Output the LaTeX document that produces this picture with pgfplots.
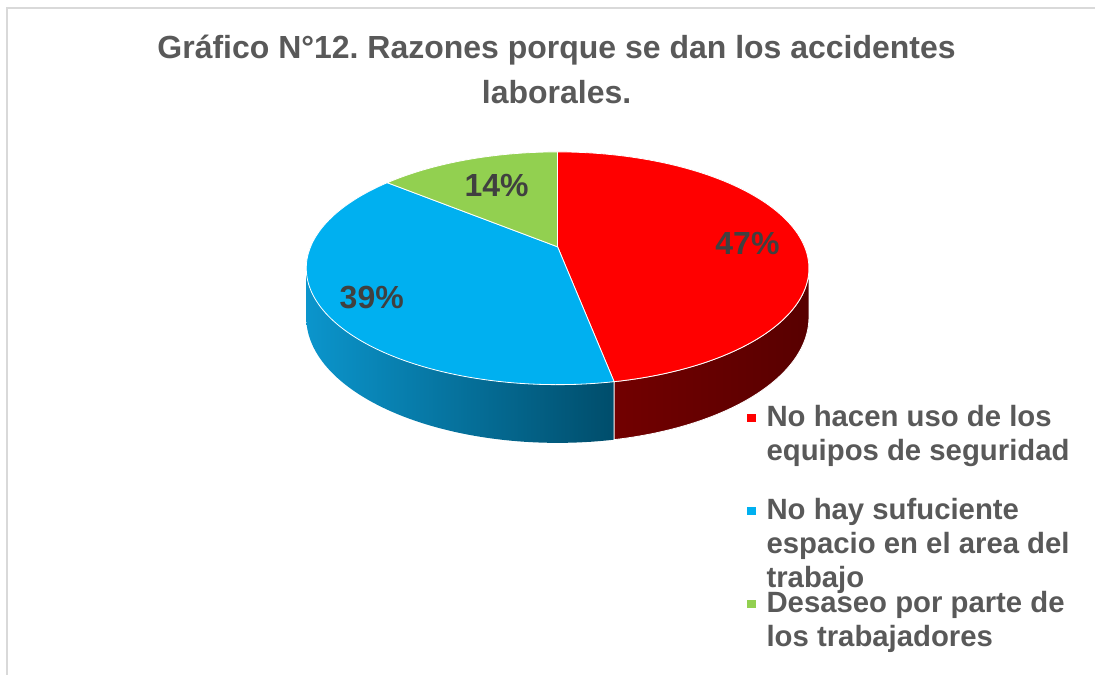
\documentclass[border=0pt]{standalone}
\usepackage{pgfplots}
\pgfplotsset{compat=1.18}
\usepackage{pgfplotstable}
\usepackage{fontspec}
\setmainfont{Liberation Sans}
\definecolor{pieRed}{HTML}{FF0000}
\definecolor{pieBlue}{HTML}{00B0F0}
\definecolor{pieGreen}{HTML}{92D050}
\definecolor{redSideL}{HTML}{720000}
\definecolor{redSideR}{HTML}{580000}
\definecolor{blueSideL}{HTML}{0B95CC}
\definecolor{blueSideR}{HTML}{004D6B}
\definecolor{txtGray}{HTML}{595959}
\definecolor{lblGray}{HTML}{404040}
\definecolor{frameGray}{HTML}{D9D9D9}

\pgfplotstableread{
label value
A 47
B 39
C 14
}\piedata
\pgfplotstablegetelem{0}{value}\of\piedata \let\vA\pgfplotsretval
\pgfplotstablegetelem{1}{value}\of\piedata \let\vB\pgfplotsretval
\pgfplotstablegetelem{2}{value}\of\piedata \let\vC\pgfplotsretval
\pgfmathsetmacro\aR{90}
\pgfmathsetmacro\bR{\aR-3.6*\vA}
\pgfmathsetmacro\bB{\bR-3.6*\vB}
\pgfmathsetmacro\bG{\bB-3.6*\vC}
% projection of the 3-D pie (centre, radii, perspective, depth), in pixels
\def\cx{558}
\def\cy{428}
\def\A{247.2}
\def\B{112.5}
\def\dS{47.5}
\def\leftE{-169.4}
\def\rightE{-10.6}

\begin{document}
\frenchspacing
\begin{tikzpicture}
\begin{axis}[
  hide axis, scale only axis,
  width=822pt, height=506.25pt,
  xmin=0, xmax=1096, ymin=0, ymax=675,
  clip=false,
  declare function={
    clampz(\t)=min(max(\t,0),1);
    angT(\t,\a,\b)=\a+(\b-\a)*clampz(\t);
    inr(\t)=(\t>(-0.005))*(\t<1.005);
    angS(\t,\a,\b)=\a+(\b-\a)*(clampz(\t)-clampz(\t-1.2));
    offS(\t)=clampz((\t-1.05)*10);
    wq(\a)=1+0.1845*sin(\a);
  },
  legend style={
    at={(axis cs:747,274.7)}, anchor=north west,
    draw=none, fill=none, inner sep=0pt, outer sep=0pt,
    row sep=0pt,
    nodes={inner sep=0pt, text depth={}},
    font=\fontsize{22}{25.5}\selectfont\bfseries,
    text=txtGray,
    cells={anchor=base west},
    /tikz/every odd column/.append style={column sep=7.5pt},
  },
  legend image code/.code={\fill[#1] (0pt,3pt) rectangle (7pt,10pt);},
]
\path (rel axis cs:0,0) rectangle (rel axis cs:1,1);
\draw[frameGray, line width=1.2pt] (axis cs:7,0) -- (axis cs:7,667) -- (axis cs:1096,667);

% side walls
\addplot[forget plot, draw=none, left color=blueSideL, right color=blueSideR,
  domain=0:2.2, samples=221]
  ({\cx+\A*cos(angS(x,\leftE,\bR))/wq(angS(x,\leftE,\bR))},
   {\cy+(\B*sin(angS(x,\leftE,\bR))-\dS*offS(x))/wq(angS(x,\leftE,\bR))}) -- cycle;
\addplot[forget plot, draw=white, line width=0.6pt, left color=redSideL, right color=redSideR,
  domain=0:2.2, samples=221]
  ({\cx+\A*cos(angS(x,\bR,\rightE))/wq(angS(x,\bR,\rightE))},
   {\cy+(\B*sin(angS(x,\bR,\rightE))-\dS*offS(x))/wq(angS(x,\bR,\rightE))}) -- cycle;

% top faces
\addplot[fill=pieRed, draw=white, line width=0.6pt, domain=-0.05:1.05, samples=111]
  ({\cx+inr(x)*\A*cos(angT(x,\aR,\bR))/wq(angT(x,\aR,\bR))},
   {\cy+inr(x)*\B*sin(angT(x,\aR,\bR))/wq(angT(x,\aR,\bR))}) -- cycle;
\addlegendentry{\raisebox{0pt}[20pt][49.75pt]{\parbox[t]{230pt}{No hacen uso de los\\equipos de seguridad}}}
\addplot[fill=pieBlue, draw=white, line width=0.6pt, domain=-0.05:1.05, samples=111]
  ({\cx+inr(x)*\A*cos(angT(x,\bR,\bB))/wq(angT(x,\bR,\bB))},
   {\cy+inr(x)*\B*sin(angT(x,\bR,\bB))/wq(angT(x,\bR,\bB))}) -- cycle;
\addlegendentry{\raisebox{0pt}[20pt][49.75pt]{\parbox[t]{230pt}{No hay sufuciente\\espacio en el area del\\trabajo}}}
\addplot[fill=pieGreen, draw=white, line width=0.6pt, domain=-0.05:1.05, samples=111]
  ({\cx+inr(x)*\A*cos(angT(x,\bB,\bG))/wq(angT(x,\bB,\bG))},
   {\cy+inr(x)*\B*sin(angT(x,\bB,\bG))/wq(angT(x,\bB,\bG))}) -- cycle;
\addlegendentry{\raisebox{0pt}[20pt][49.75pt]{\parbox[t]{230pt}{Desaseo por parte de\\los trabajadores}}}

% data labels
\node[text=lblGray, font=\fontsize{24}{28}\selectfont\bfseries] at (axis cs:748,431) {47\%};
\node[text=lblGray, font=\fontsize{24}{28}\selectfont\bfseries] at (axis cs:372,377) {39\%};
\node[text=lblGray, font=\fontsize{24}{28}\selectfont\bfseries] at (axis cs:497,489) {14\%};

% title
\node[text=txtGray, font=\fontsize{24}{33.75}\selectfont\bfseries, align=center]
  at (axis cs:557,605.5) {Gráfico N°12. Razones porque se dan los accidentes\\laborales.};
\end{axis}
\end{tikzpicture}
\end{document}
